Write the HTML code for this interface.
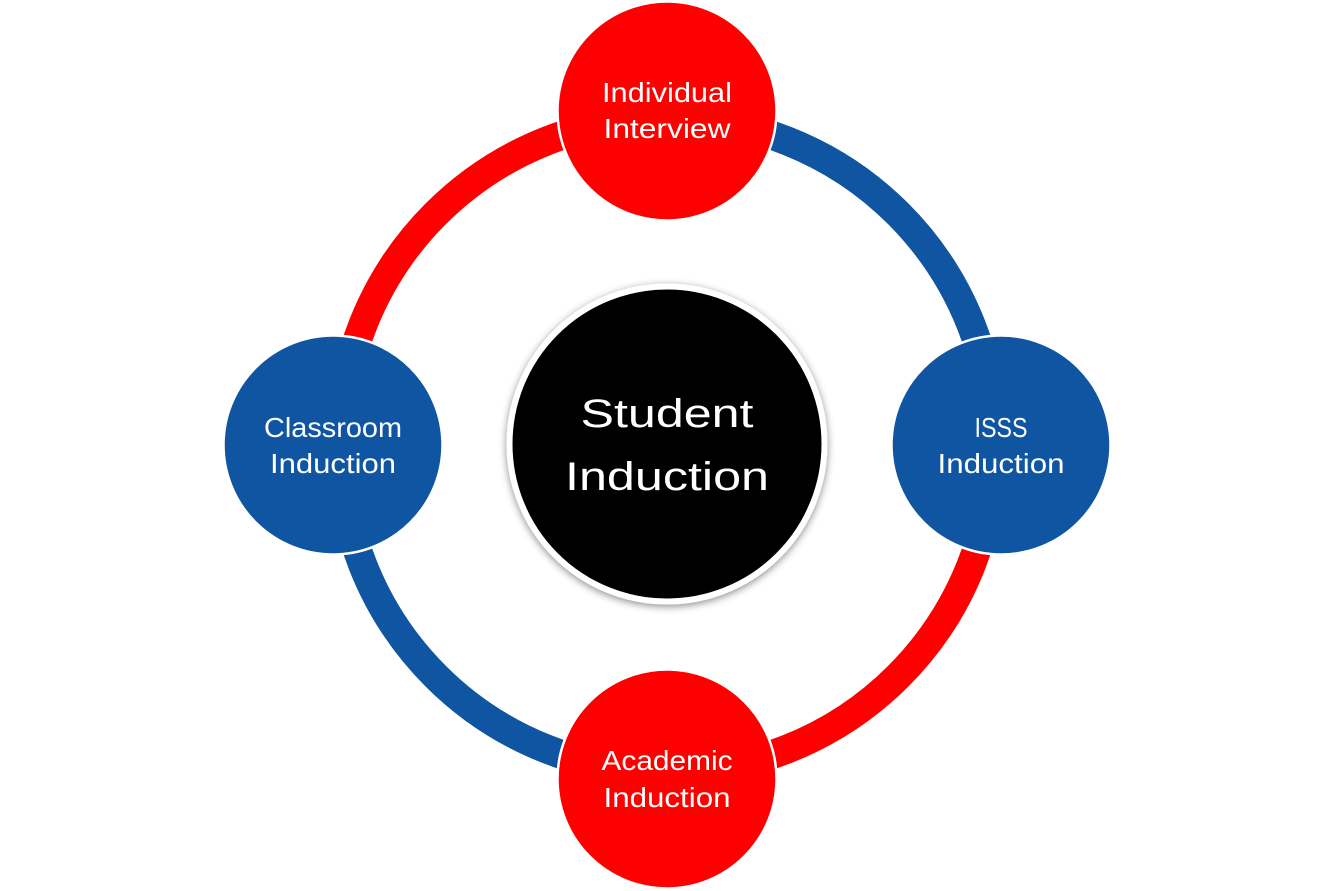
<!DOCTYPE html>
<html>
<head>
<meta charset="utf-8">
<style>
  html, body { margin: 0; padding: 0; background: #ffffff; }
  body { width: 1334px; height: 891px; overflow: hidden; }
  svg { display: block; }
  text { font-family: "Liberation Sans", "DejaVu Sans", sans-serif; fill: #ffffff; }
</style>
</head>
<body>
<svg width="1334" height="891" viewBox="0 0 1334 891" xmlns="http://www.w3.org/2000/svg">
  <defs>
    <filter id="sh" x="-20%" y="-20%" width="140%" height="140%">
      <feDropShadow dx="0" dy="2" stdDeviation="4" flood-color="#000000" flood-opacity="0.45"/>
    </filter>
  </defs>

  <!-- ring arcs -->
  <g fill="none" stroke-width="29">
    <path d="M 340 445 A 327 327 0 0 1 667 118" stroke="#FF0000"/>
    <path d="M 667 118 A 327 327 0 0 1 994 445" stroke="#0F55A2"/>
    <path d="M 994 445 A 327 327 0 0 1 667 772" stroke="#FF0000"/>
    <path d="M 667 772 A 327 327 0 0 1 340 445" stroke="#0F55A2"/>
  </g>

  <!-- satellite nodes -->
  <g stroke="#ffffff" stroke-width="2.5">
    <circle cx="667" cy="111" r="109.5" fill="#FF0000"/>
    <circle cx="333" cy="445" r="109.5" fill="#0F55A2"/>
    <circle cx="1001" cy="445" r="109.5" fill="#0F55A2"/>
    <circle cx="667" cy="779" r="109.5" fill="#FF0000"/>
  </g>

  <!-- center node -->
  <circle cx="667" cy="444" r="157.5" fill="#000000" stroke="#ffffff" stroke-width="6" filter="url(#sh)"/>

  <!-- labels -->
  <g font-size="28" text-anchor="middle">
    <text x="667" y="102" textLength="130" lengthAdjust="spacingAndGlyphs">Individual</text>
    <text x="667" y="138" textLength="127" lengthAdjust="spacingAndGlyphs">Interview</text>

    <text x="333" y="437" textLength="138" lengthAdjust="spacingAndGlyphs">Classroom</text>
    <text x="333" y="473" textLength="126" lengthAdjust="spacingAndGlyphs">Induction</text>

    <text x="1001" y="437" textLength="53" lengthAdjust="spacingAndGlyphs">ISSS</text>
    <text x="1001" y="473" textLength="127" lengthAdjust="spacingAndGlyphs">Induction</text>

    <text x="667" y="770" textLength="131" lengthAdjust="spacingAndGlyphs">Academic</text>
    <text x="667" y="807" textLength="127" lengthAdjust="spacingAndGlyphs">Induction</text>
  </g>
  <g font-size="40" text-anchor="middle">
    <text x="667" y="427" textLength="173" lengthAdjust="spacingAndGlyphs">Student</text>
    <text x="667" y="490" textLength="204" lengthAdjust="spacingAndGlyphs">Induction</text>
  </g>
</svg>
</body>
</html>
